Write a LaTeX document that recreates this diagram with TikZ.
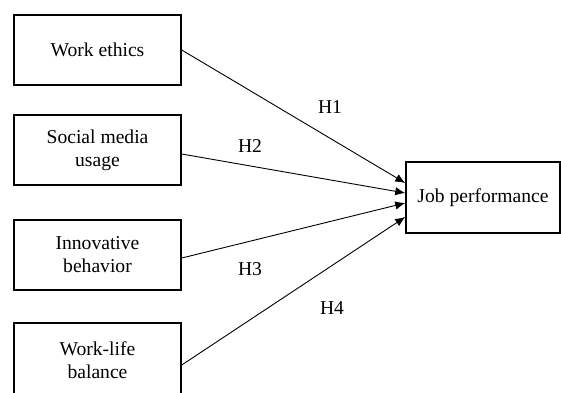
\documentclass[tikz,border=0pt]{standalone}
\usepackage{fontspec}
\setmainfont{Liberation Serif}
\usetikzlibrary{arrows.meta}

\begin{document}
\begin{tikzpicture}[x=0.5pt, y=-0.5pt,
    font=\fontsize{9.8}{11.5}\selectfont,
    var/.style={draw, line width=0.75pt, minimum width=83.5pt, minimum height=35pt,
                align=center, inner sep=0pt},
    hyp/.style={line width=0.45pt, -{Latex[length=5pt,width=4.2pt]}}]
    \useasboundingbox (0,0) rectangle (561,392);
    % independent variables
    \node [var] (ethics) at (97.5,50)  {Work ethics};
    \node [var] (media)  at (97.5,150) {Social media\\usage};
    \node [var] (innov)  at (97.5,255) {Innovative\\behavior};
    \node [var, minimum height=37pt] (wlb) at (97.5,360) {Work-life\\balance};
    % dependent variable
    \node [var, minimum width=77pt, minimum height=35.5pt] (perf) at (483,197.5) {Job performance};
    % hypotheses
    \draw [hyp] (ethics.east) -- ([yshift=7.25pt]perf.west);
    \draw [hyp] ([yshift=-2pt]media.east) -- ([yshift=2.25pt]perf.west);
    \draw [hyp] ([yshift=-1.5pt]innov.east) -- ([yshift=-2.75pt]perf.west);
    \draw [hyp] ([yshift=-2.5pt]wlb.east) -- ([yshift=-9.75pt]perf.west);
    \node (h1) at (330,107) {H1};
    \node (h2) at (250,146) {H2};
    \node (h3) at (250,269) {H3};
    \node (h4) at (332,308) {H4};
\end{tikzpicture}
\end{document}
